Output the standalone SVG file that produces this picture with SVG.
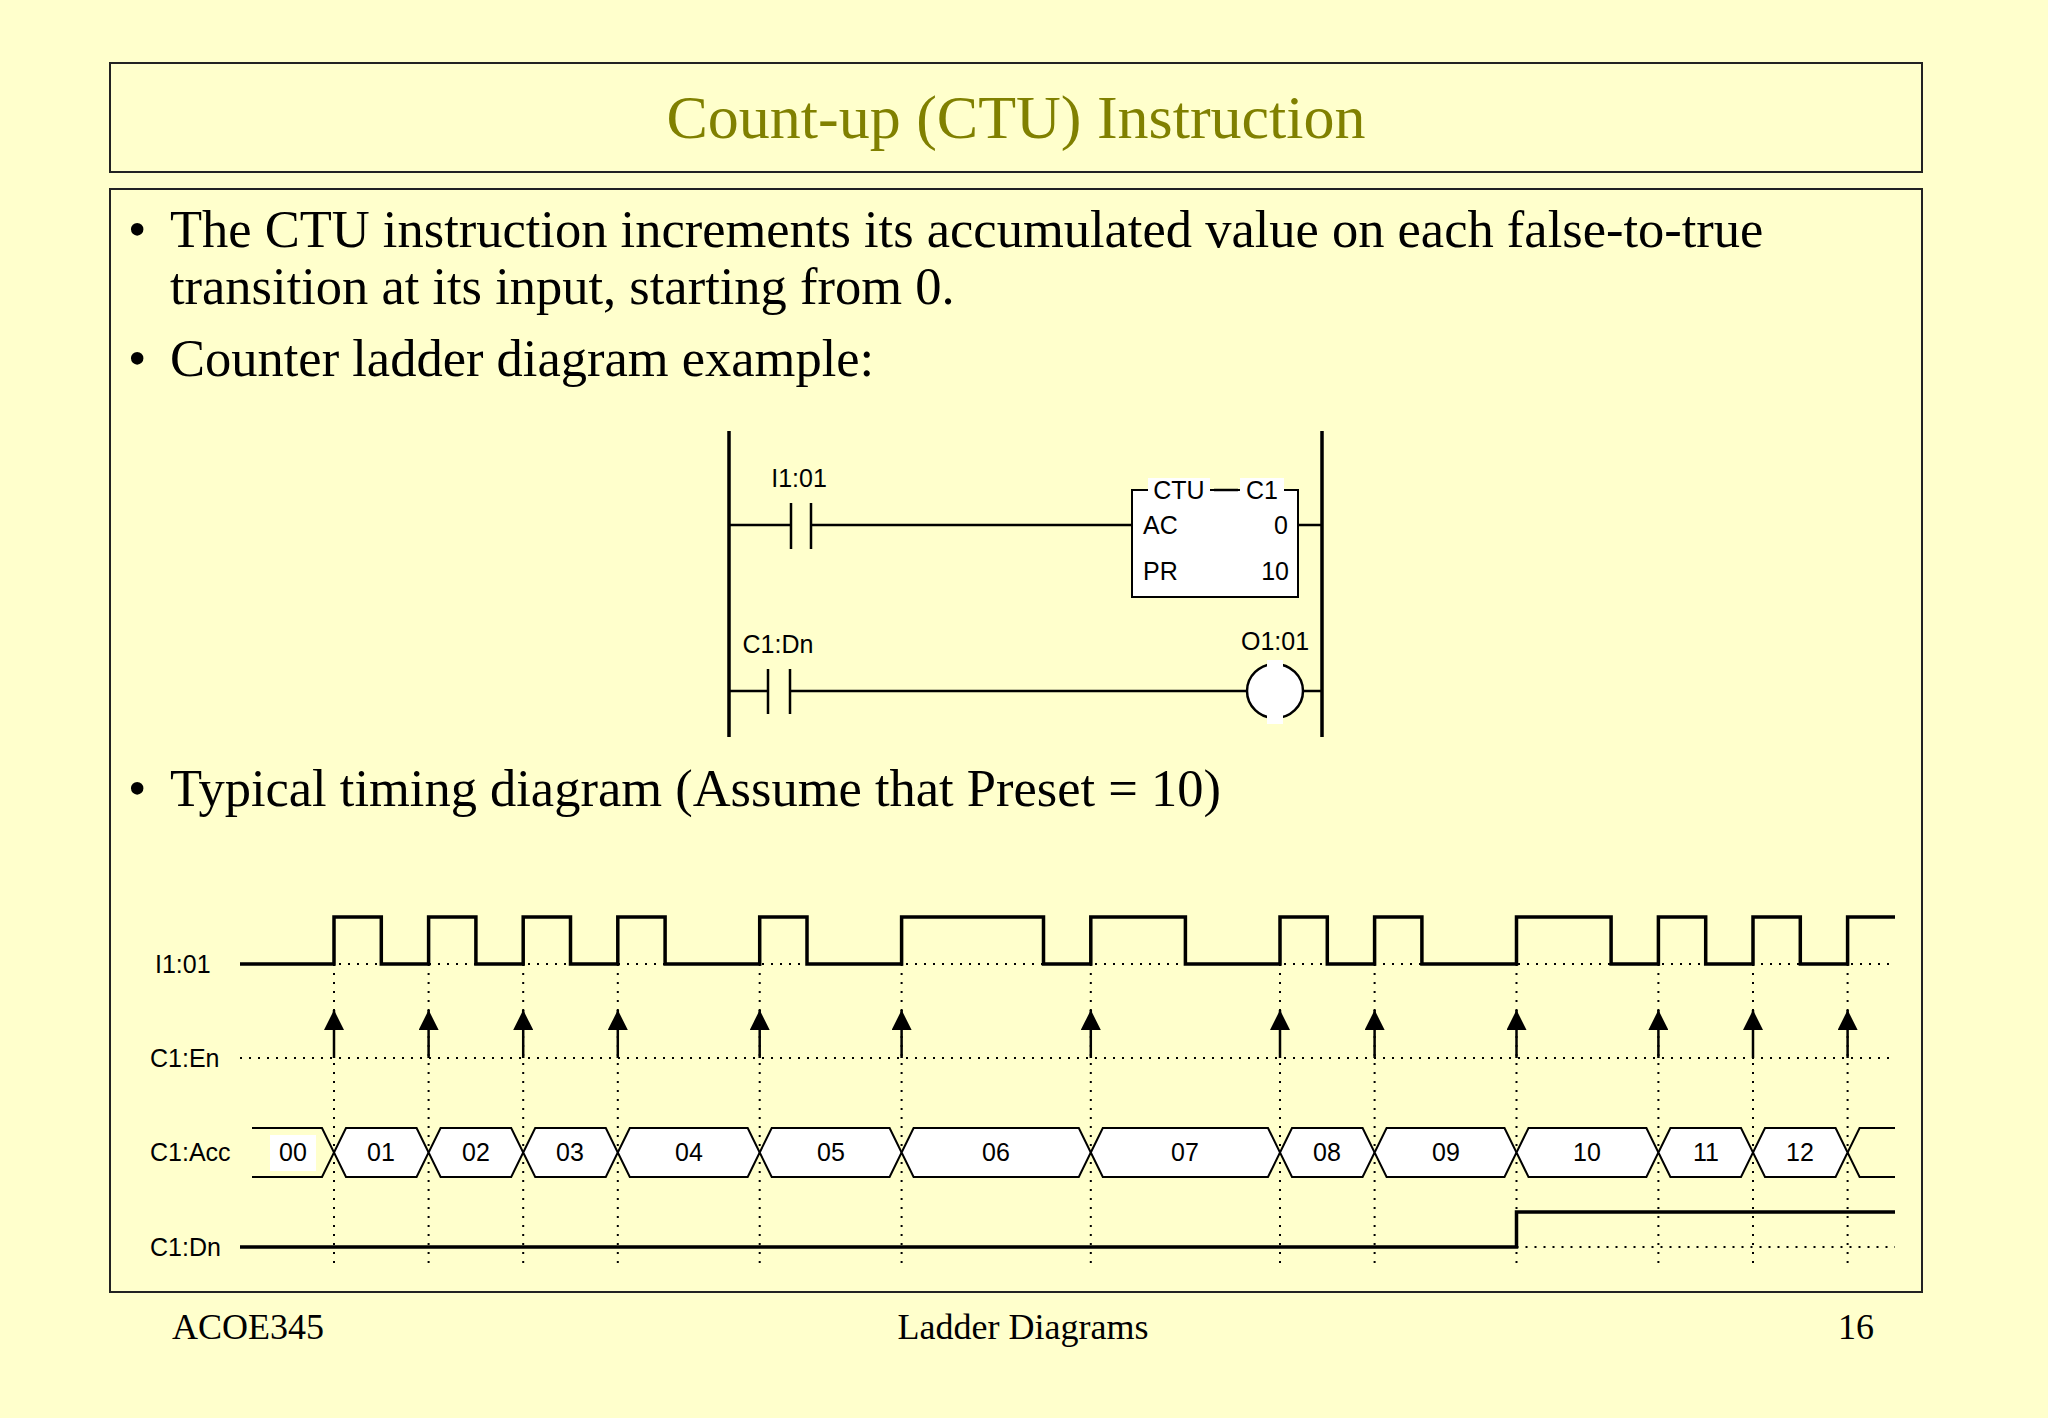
<svg xmlns="http://www.w3.org/2000/svg" width="2048" height="1418" viewBox="0 0 2048 1418">
<style>
.s{font-family:"Liberation Serif",serif;fill:#000}
.a{font-family:"Liberation Sans",Arial,sans-serif;font-size:25px;fill:#000}
.ln{stroke:#000;stroke-width:2.5;fill:none}
.th{stroke:#000;stroke-width:3.5;fill:none}
.dot{stroke:#000;stroke-width:2;stroke-dasharray:2 7;fill:none}
.hx{stroke:#000;stroke-width:2;fill:#fff}
.arw{stroke:#000;stroke-width:2.5;marker-end:url(#ar)}
</style>
<defs><marker id="ar" viewBox="0 0 10 10" refX="10" refY="5" markerWidth="28" markerHeight="20" markerUnits="userSpaceOnUse" orient="auto"><path d="M0,0 L10,5 L0,10 z" fill="#000"/></marker></defs>
<rect width="2048" height="1418" fill="#FFFFCC"/>
<g id="title"><rect x="110" y="63" width="1812" height="109" fill="none" stroke="#222" stroke-width="2"/>
<text x="1016" y="138" text-anchor="middle" class="s" font-size="62" style="fill:#808000">Count-up (CTU) Instruction</text></g>
<g id="body"><rect x="110" y="189" width="1812" height="1103" fill="none" stroke="#222" stroke-width="2"/>
<text class="s" font-size="52.5"><tspan x="128" y="247">•</tspan><tspan x="170" y="247">The CTU instruction increments its accumulated value on each false-to-true</tspan><tspan x="170" y="304">transition at its input, starting from 0.</tspan><tspan x="128" y="376">•</tspan><tspan x="170" y="376">Counter ladder diagram example:</tspan><tspan x="128" y="806">•</tspan><tspan x="170" y="806">Typical timing diagram (Assume that Preset = 10)</tspan></text></g>
<g id="ladder">
<path class="th" d="M729 431V737M1322 431V737"/>
<path class="ln" d="M729 525H791M791 503V549M811 503V549M811 525H1132M1298 525H1322"/>
<rect x="1132" y="490" width="166" height="107" fill="#fff" stroke="#000" stroke-width="2"/>
<rect x="1148" y="478" width="62" height="26" fill="#fff"/><rect x="1240" y="478" width="44" height="26" fill="#fff"/>
<path class="ln" d="M1214 490H1238" stroke-width="2"/>
<text class="a" x="799" y="487" text-anchor="middle">I1:01</text>
<text class="a" x="1179" y="499" text-anchor="middle">CTU</text>
<text class="a" x="1262" y="499" text-anchor="middle">C1</text>
<text class="a" x="1143" y="534">AC</text><text class="a" x="1288" y="534" text-anchor="end">0</text>
<text class="a" x="1143" y="580">PR</text><text class="a" x="1289" y="580" text-anchor="end">10</text>
<path class="ln" d="M729 691H768M768 669V714M790 669V714M790 691H1247M1303 691H1322"/>
<ellipse cx="1275" cy="691" rx="28" ry="27" fill="#fff" stroke="#000" stroke-width="2.5"/>
<rect x="1267" y="660" width="16" height="64" fill="#fff"/>
<text class="a" x="778" y="653" text-anchor="middle">C1:Dn</text>
<text class="a" x="1275" y="650" text-anchor="middle">O1:01</text>
</g>
<g id="timing">
<text class="a" x="155" y="973">I1:01</text>
<text class="a" x="150" y="1067">C1:En</text>
<text class="a" x="150" y="1161">C1:Acc</text>
<text class="a" x="150" y="1256">C1:Dn</text>
<path class="dot" d="M240 964H1895M240 1058H1895M1516.5 1247H1895"/>
<path class="dot" d="M334 964V1267M428.6 964V1267M523.2 964V1267M617.8 964V1267M759.7 964V1267M901.6 964V1267M1090.8 964V1267M1280 964V1267M1374.6 964V1267M1516.5 964V1267M1658.4 964V1267M1753 964V1267M1847.6 964V1267"/>
<path class="th" stroke-width="3" d="M240 964H334V917H381.3V964H428.6V917H475.9V964H523.2V917H570.5V964H617.8V917H665.1V964H759.7V917H807V964H901.6V917H1043.5V964H1090.8V917H1185.4V964H1280V917H1327.3V964H1374.6V917H1421.9V964H1516.5V917H1611.1V964H1658.4V917H1705.7V964H1753V917H1800.3V964H1847.6V917H1895"/>
<g>
<path class="arw" d="M334 1058V1010"/><path class="arw" d="M428.6 1058V1010"/><path class="arw" d="M523.2 1058V1010"/><path class="arw" d="M617.8 1058V1010"/><path class="arw" d="M759.7 1058V1010"/><path class="arw" d="M901.6 1058V1010"/><path class="arw" d="M1090.8 1058V1010"/><path class="arw" d="M1280 1058V1010"/><path class="arw" d="M1374.6 1058V1010"/><path class="arw" d="M1516.5 1058V1010"/><path class="arw" d="M1658.4 1058V1010"/><path class="arw" d="M1753 1058V1010"/><path class="arw" d="M1847.6 1058V1010"/>
</g>
<rect x="270" y="1135" width="46" height="36" fill="#fff"/>
<path class="hx" style="fill:none" d="M252 1128H322L334 1152.5L322 1177H252"/>
<path class="hx" style="fill:none" d="M1895 1128H1859.6L1847.6 1152.5L1859.6 1177H1895"/>
<g class="hx">
<path d="M334 1152.5L346 1128H416.6L428.6 1152.5L416.6 1177H346Z"/>
<path d="M428.6 1152.5L440.6 1128H511.2L523.2 1152.5L511.2 1177H440.6Z"/>
<path d="M523.2 1152.5L535.2 1128H605.8L617.8 1152.5L605.8 1177H535.2Z"/>
<path d="M617.8 1152.5L629.8 1128H747.7L759.7 1152.5L747.7 1177H629.8Z"/>
<path d="M759.7 1152.5L771.7 1128H889.6L901.6 1152.5L889.6 1177H771.7Z"/>
<path d="M901.6 1152.5L913.6 1128H1078.8L1090.8 1152.5L1078.8 1177H913.6Z"/>
<path d="M1090.8 1152.5L1102.8 1128H1268L1280 1152.5L1268 1177H1102.8Z"/>
<path d="M1280 1152.5L1292 1128H1362.6L1374.6 1152.5L1362.6 1177H1292Z"/>
<path d="M1374.6 1152.5L1386.6 1128H1504.5L1516.5 1152.5L1504.5 1177H1386.6Z"/>
<path d="M1516.5 1152.5L1528.5 1128H1646.4L1658.4 1152.5L1646.4 1177H1528.5Z"/>
<path d="M1658.4 1152.5L1670.4 1128H1741L1753 1152.5L1741 1177H1670.4Z"/>
<path d="M1753 1152.5L1765 1128H1835.6L1847.6 1152.5L1835.6 1177H1765Z"/>
</g>
<g class="a" text-anchor="middle">
<text x="293" y="1161">00</text><text x="381" y="1161">01</text><text x="476" y="1161">02</text><text x="570" y="1161">03</text><text x="689" y="1161">04</text><text x="831" y="1161">05</text><text x="996" y="1161">06</text><text x="1185" y="1161">07</text><text x="1327" y="1161">08</text><text x="1446" y="1161">09</text><text x="1587" y="1161">10</text><text x="1706" y="1161">11</text><text x="1800" y="1161">12</text>
</g>
<path class="th" stroke-width="3" d="M240 1247H1516.5V1212H1895"/>
</g>
<g id="footer" class="s" font-size="36">
<text x="172" y="1339">ACOE345</text>
<text x="1023" y="1339" text-anchor="middle">Ladder Diagrams</text>
<text x="1874" y="1339" text-anchor="end">16</text>
</g>
</svg>
